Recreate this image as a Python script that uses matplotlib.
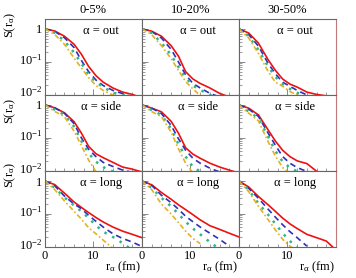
import numpy as np
import matplotlib
matplotlib.use("Agg")
import matplotlib.pyplot as plt
import matplotlib.transforms as mtransforms
from matplotlib.ticker import FixedLocator, NullFormatter, LogLocator, FuncFormatter

plt.rcParams['font.family'] = ['Liberation Serif', 'DejaVu Serif']
plt.rcParams['mathtext.fontset'] = 'custom'
plt.rcParams['mathtext.rm'] = 'Liberation Serif'
plt.rcParams['mathtext.it'] = 'Liberation Serif'
plt.rcParams['mathtext.bf'] = 'Liberation Serif:bold'

nan = np.nan
r = [0, 2, 4, 6, 7.5, 9, 10.5, 12, 14, 16, 18, 20]

centralities = ["0-5%", "10-20%", "30-50%"]
directions = ["out", "side", "long"]

# each panel: [red solid, blue dashed, green dotted, yellow dash-dot]
out_0_5 = [
    [1.0, 0.86, 0.60, 0.34, 0.17, 0.072, 0.038, 0.024, 0.016, 0.012, 0.0102, 0.008],
    [1.0, 0.84, 0.54, 0.27, 0.11, 0.050, 0.028, 0.019, 0.0135, 0.0108, 0.0085, nan],
    [1.0, 0.76, 0.43, 0.19, 0.09, 0.040, 0.024, 0.017, 0.0115, 0.0098, 0.008, nan],
    [1.0, 0.68, 0.34, 0.13, 0.065, 0.033, 0.019, 0.0135, 0.0098, 0.007, nan, nan],
]
side_0_5 = [
    [1.0, 0.82, 0.58, 0.31, 0.14, 0.055, 0.033, 0.025, 0.018, 0.013, 0.0112, 0.0092],
    [1.0, 0.82, 0.56, 0.27, 0.10, 0.045, 0.027, 0.018, 0.0135, 0.0105, 0.009, nan],
    [1.0, 0.72, 0.50, 0.22, 0.08, 0.034, 0.019, 0.013, 0.0095, 0.007, nan, nan],
    [1.0, 0.64, 0.44, 0.16, 0.058, 0.021, 0.0095, 0.006, nan, nan, nan, nan],
]
long_0_5 = [
    [1.0, 0.78, 0.43, 0.23, 0.158, 0.11, 0.078, 0.057, 0.040, 0.030, 0.024, 0.019],
    [1.0, 0.72, 0.35, 0.20, 0.145, 0.09, 0.06, 0.04, 0.025, 0.018, 0.014, 0.0102],
    [1.0, 0.63, 0.32, 0.18, 0.12, 0.075, 0.045, 0.029, 0.02, 0.013, 0.008, nan],
    [1.0, 0.55, 0.25, 0.12, 0.07, 0.038, 0.025, 0.016, 0.009, nan, nan, nan],
]
out_10_20 = [
    [1.0, 0.85, 0.60, 0.31, 0.15, 0.05, 0.030, 0.022, 0.016, 0.011, 0.0085, nan],
    [1.0, 0.83, 0.53, 0.24, 0.10, 0.04, 0.022, 0.016, 0.011, 0.0085, nan, nan],
    [1.0, 0.75, 0.38, 0.16, 0.07, 0.033, 0.019, 0.014, 0.0098, 0.007, nan, nan],
    [1.0, 0.67, 0.31, 0.125, 0.055, 0.025, 0.015, 0.0095, 0.007, nan, nan, nan],
]
side_10_20 = [
    [1.0, 0.80, 0.62, 0.32, 0.14, 0.05, 0.032, 0.024, 0.017, 0.013, 0.0105, 0.0085],
    [1.0, 0.80, 0.55, 0.24, 0.095, 0.042, 0.024, 0.017, 0.012, 0.0092, nan, nan],
    [1.0, 0.70, 0.50, 0.19, 0.065, 0.027, 0.013, 0.0095, 0.007, nan, nan, nan],
    [1.0, 0.63, 0.44, 0.15, 0.047, 0.017, 0.0085, nan, nan, nan, nan, nan],
]
long_10_20 = [
    [1.0, 0.77, 0.45, 0.28, 0.19, 0.135, 0.095, 0.066, 0.044, 0.034, 0.026, 0.020],
    [1.0, 0.74, 0.37, 0.22, 0.14, 0.085, 0.058, 0.040, 0.026, 0.017, 0.0105, nan],
    [1.0, 0.62, 0.31, 0.17, 0.10, 0.058, 0.036, 0.024, 0.014, 0.0085, nan, nan],
    [1.0, 0.55, 0.20, 0.10, 0.055, 0.030, 0.018, 0.0125, nan, nan, nan, nan],
]
out_30_50 = [
    [1.0, 0.75, 0.37, 0.116, 0.055, 0.030, 0.021, 0.017, 0.012, 0.0102, 0.0092, nan],
    [1.0, 0.67, 0.30, 0.09, 0.043, 0.024, 0.018, 0.0135, 0.0098, nan, nan, nan],
    [1.0, 0.60, 0.23, 0.073, 0.035, 0.021, 0.015, 0.0115, 0.0088, nan, nan, nan],
    [1.0, 0.53, 0.18, 0.051, 0.024, 0.018, 0.0125, 0.0098, nan, nan, nan, nan],
]
side_30_50 = [
    [1.0, 0.80, 0.50, 0.175, 0.08, 0.042, 0.027, 0.020, 0.0165, 0.0097, nan, nan],
    [1.0, 0.75, 0.45, 0.14, 0.06, 0.027, 0.017, 0.0125, 0.0095, nan, nan, nan],
    [1.0, 0.63, 0.40, 0.11, 0.04, 0.019, 0.0125, 0.0095, nan, nan, nan, nan],
    [1.0, 0.56, 0.33, 0.077, 0.028, 0.0125, 0.0085, nan, nan, nan, nan, nan],
]
long_30_50 = [
    [1.0, 0.66, 0.34, 0.19, 0.12, 0.075, 0.05, 0.036, 0.024, 0.019, 0.015, 0.008],
    [1.0, 0.60, 0.30, 0.14, 0.08, 0.047, 0.029, 0.019, 0.0105, nan, nan, nan],
    [1.0, 0.54, 0.21, 0.095, 0.05, 0.026, 0.015, 0.0098, nan, nan, nan, nan],
    [1.0, 0.48, 0.17, 0.067, 0.033, 0.017, 0.0105, 0.0075, nan, nan, nan, nan],
]

panels = [[out_0_5, out_10_20, out_30_50],
          [side_0_5, side_10_20, side_30_50],
          [long_0_5, long_10_20, long_30_50]]

colors = ['#ee1111', '#3030b8', '#30b488', '#e6b020']
styles = ['-', (0, (3.5, 2.5)), (0, (1, 2.5)), (0, (3, 1.5, 1, 1.5))]
widths = [1.2, 1.2, 1.8, 1.2]

fig, axes = plt.subplots(3, 3, figsize=(3.56, 2.78), dpi=100)
fig.subplots_adjust(left=0.1264, right=0.9438, top=0.933, bottom=0.112,
                    wspace=0, hspace=0)


def ylab(v, pos):
    if v == 1:
        return "1"
    return r"$10^{%d}$" % int(round(np.log10(v)))


up = mtransforms.ScaledTranslation(0, 2.5 / 72, fig.dpi_scale_trans)

for i in range(3):
    for j in range(3):
        ax = axes[i][j]
        for k in range(4):
            ax.plot(r, panels[i][j][k], color=colors[k], linestyle=styles[k],
                    lw=widths[k], dash_capstyle='butt')
        ax.set_yscale('log')
        ax.set_xlim(0, 20)
        ax.set_ylim(0.01, 2.05)
        ax.xaxis.set_major_locator(FixedLocator([0, 10, 20]))
        ax.xaxis.set_minor_locator(FixedLocator(np.arange(0, 21, 2)))
        ax.yaxis.set_major_locator(FixedLocator([0.01, 0.1, 1]))
        ax.yaxis.set_minor_locator(LogLocator(base=10, subs=np.arange(2, 10)))
        ax.tick_params(which='both', direction='in', color='#777777',
                       labelsize=9, pad=2)
        ax.tick_params(which='major', length=4, width=0.6)
        ax.tick_params(which='minor', length=2.5, width=0.5)
        for s in ax.spines.values():
            s.set_color('#666666')
            s.set_linewidth(0.8)
        if j == 2:
            ax.spines['right'].set_color('#c07878')
        ax.text(0.58, 0.84, "α = " + directions[i], transform=ax.transAxes,
                ha='center', va='center', fontsize=9)
        if j == 0:
            ax.yaxis.set_major_formatter(FuncFormatter(ylab))
            for lab in ax.get_yticklabels()[:2]:
                lab.set_transform(lab.get_transform() + up)
        else:
            ax.yaxis.set_major_formatter(NullFormatter())
        if i == 2:
            ax.set_xticklabels(["0", "10", ""])
            ax.text(0.80, -0.27, r"r$_\alpha$ (fm)", transform=ax.transAxes,
                    ha='center', va='center', fontsize=9)
        else:
            ax.set_xticklabels([])
        if i == 0:
            ax.text(0.5, 1.11, centralities[j], transform=ax.transAxes,
                    ha='center', va='center', fontsize=9)

for i, yc in enumerate([0.91, 0.6, 0.37]):
    fig.text(0.03, yc, r"S(r$_\alpha$)", rotation=90, ha='center', va='center',
             fontsize=9)

fig.savefig("out.png", dpi=100)
